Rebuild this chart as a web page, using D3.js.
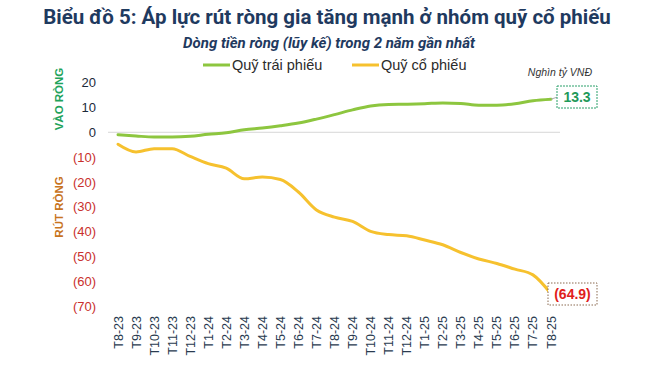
<!DOCTYPE html>
<html>
<head>
<meta charset="utf-8">
<script src="https://cdn.jsdelivr.net/npm/d3@7"></script>
<style>
  body { margin: 0; background: #fff; }
  svg { display: block; font-family: Arial, 'Liberation Sans', sans-serif; }
</style>
</head>
<body>
<svg id="chart" width="652" height="367"></svg>
<script>
const months = ['T8-23', 'T9-23', 'T10-23', 'T11-23', 'T12-23', 'T1-24', 'T2-24', 'T3-24', 'T4-24',
  'T5-24', 'T6-24', 'T7-24', 'T8-24', 'T9-24', 'T10-24', 'T11-24', 'T12-24', 'T1-25', 'T2-25',
  'T3-25', 'T4-25', 'T5-25', 'T6-25', 'T7-25', 'T8-25']
const bondFunds = [-1.0, -1.5, -1.9, -1.9, -1.6, -0.8, -0.2, 1.0, 1.7, 2.6, 3.7, 5.3, 7.1, 9.0,
  10.6, 11.2, 11.3, 11.5, 11.8, 11.6, 10.9, 10.9, 11.5, 12.7, 13.3]
const equityFunds = [-4.8, -7.9, -6.6, -6.6, -9.7, -12.6, -14.4, -18.7, -18.0, -19.0, -24.0, -31.2,
  -34.1, -35.8, -39.8, -41.1, -41.6, -43.3, -45.2, -48.3, -50.9, -52.7, -55.0, -57.3, -64.9]
const yTicks = [20, 10, 0, -10, -20, -30, -40, -50, -60, -70]

const GREEN = '#8dc63f'
const YELLOW = '#f6c12e'
const NAVY = '#1f3a5f'
const RED = '#c9302c'

const svg = d3.select('#chart')

const x = d3.scalePoint().domain(months).range([118, 551])
const y = d3.scaleLinear().domain([-70, 20]).range([306.5, 82.5])

// Title + subtitle
svg.append('text')
  .attr('x', 327).attr('y', 24)
  .attr('text-anchor', 'middle')
  .attr('font-family', 'Roboto, sans-serif')
  .attr('font-weight', 'bold')
  .attr('font-size', 20.5)
  .attr('fill', NAVY)
  .text('Biểu đồ 5: Áp lực rút ròng gia tăng mạnh ở nhóm quỹ cổ phiếu')

svg.append('text')
  .attr('x', 329).attr('y', 48)
  .attr('text-anchor', 'middle')
  .attr('font-family', 'Roboto, sans-serif')
  .attr('font-weight', 'bold')
  .attr('font-style', 'italic')
  .attr('font-size', 15)
  .attr('fill', NAVY)
  .text('Dòng tiền ròng (lũy kế) trong 2 năm gần nhất')

// Legend
const legend = [
  { name: 'Quỹ trái phiếu', color: GREEN, x: 203 },
  { name: 'Quỹ cổ phiếu', color: YELLOW, x: 352 },
]
const legSel = svg.append('g').selectAll('g').data(legend).enter().append('g')
legSel.append('line')
  .attr('x1', d => d.x).attr('x2', d => d.x + 27)
  .attr('y1', 65).attr('y2', 65)
  .attr('stroke', d => d.color).attr('stroke-width', 3)
legSel.append('text')
  .attr('x', d => d.x + 29).attr('y', 70)
  .attr('font-size', 14.5)
  .attr('fill', '#2b2b2b')
  .text(d => d.name)

// Unit
svg.append('text')
  .attr('x', 592).attr('y', 76)
  .attr('text-anchor', 'end')
  .attr('font-style', 'italic')
  .attr('font-size', 10.5)
  .attr('fill', '#333')
  .text('Nghìn tỷ VNĐ')

// Y axis labels
svg.append('g').selectAll('text').data(yTicks).enter().append('text')
  .attr('x', 96)
  .attr('y', d => y(d) + 4.5)
  .attr('text-anchor', 'end')
  .attr('font-size', 13)
  .attr('fill', d => d < 0 ? RED : '#1c2a3a')
  .text(d => d < 0 ? '(' + Math.abs(d) + ')' : d)

// Side labels
svg.append('text')
  .attr('transform', 'translate(63,99) rotate(-90)')
  .attr('text-anchor', 'middle')
  .attr('font-weight', 'bold')
  .attr('font-size', 11.5)
  .attr('fill', '#1fa35b')
  .text('VÀO RÒNG')
svg.append('text')
  .attr('transform', 'translate(63,207) rotate(-90)')
  .attr('text-anchor', 'middle')
  .attr('font-weight', 'bold')
  .attr('font-size', 11.5)
  .attr('fill', '#c8741e')
  .text('RÚT RÒNG')

// Zero line
svg.append('line')
  .attr('x1', 108).attr('x2', 560)
  .attr('y1', y(0)).attr('y2', y(0))
  .attr('stroke', '#d6d6d6').attr('stroke-width', 1)

// X labels
svg.append('g').selectAll('text').data(months).enter().append('text')
  .attr('transform', d => 'translate(' + (x(d) + 4.5) + ',316) rotate(-90)')
  .attr('text-anchor', 'end')
  .attr('font-size', 12.5)
  .attr('fill', '#2a3b50')
  .text(d => d)

// Lines
const line = d3.line()
  .x(d => x(d.m))
  .y(d => y(d.v))
  .curve(d3.curveMonotoneX)

const series = [
  { name: 'bond', color: GREEN, values: bondFunds },
  { name: 'equity', color: YELLOW, values: equityFunds },
]
svg.append('g').selectAll('path').data(series).enter().append('path')
  .attr('d', s => line(s.values.map((v, i) => ({ m: months[i], v }))))
  .attr('fill', 'none')
  .attr('stroke', s => s.color)
  .attr('stroke-width', 3)
  .attr('stroke-linecap', 'round')

// End labels
const lastM = months[months.length - 1]
const bondEnd = bondFunds[bondFunds.length - 1]
const eqEnd = equityFunds[equityFunds.length - 1]

svg.append('line')
  .attr('x1', x(lastM)).attr('y1', y(bondEnd))
  .attr('x2', 557).attr('y2', y(bondEnd) - 2)
  .attr('stroke', '#aaa').attr('stroke-width', 1)
svg.append('rect')
  .attr('x', 557).attr('y', 86).attr('width', 40).attr('height', 22)
  .attr('fill', '#fff')
  .attr('stroke', '#2aa06a').attr('stroke-width', 1)
  .attr('stroke-dasharray', '2,1')
svg.append('text')
  .attr('x', 577).attr('y', 102)
  .attr('text-anchor', 'middle')
  .attr('font-weight', 'bold')
  .attr('font-size', 14)
  .attr('fill', '#1f9a5a')
  .text(bondEnd.toFixed(1))

svg.append('rect')
  .attr('x', 548).attr('y', 283).attr('width', 49).attr('height', 22)
  .attr('fill', '#fff')
  .attr('stroke', '#8a6a50').attr('stroke-width', 1)
  .attr('stroke-dasharray', '1.5,1.5')
svg.append('text')
  .attr('x', 572.5).attr('y', 299)
  .attr('text-anchor', 'middle')
  .attr('font-weight', 'bold')
  .attr('font-size', 14)
  .attr('fill', '#e0201b')
  .text('(' + Math.abs(eqEnd).toFixed(1) + ')')
</script>
</body>
</html>
